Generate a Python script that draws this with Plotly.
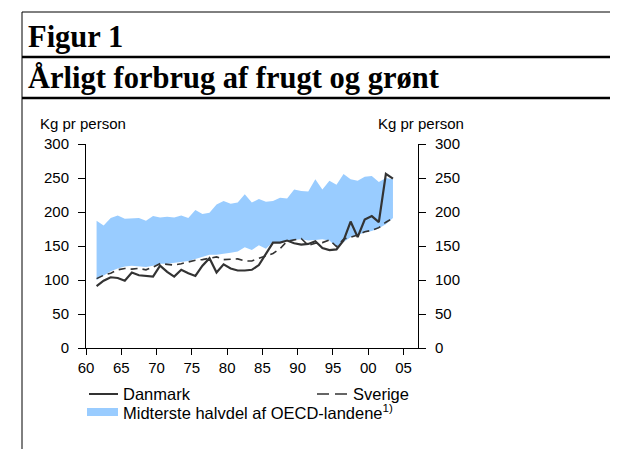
import plotly.graph_objects as go

# ---------------- data ----------------
years = list(range(1961, 2004))

danmark = [91, 99, 104, 103, 99, 111, 107, 106, 105, 121,
           112, 105, 115, 110, 106, 121, 132, 111, 123, 117,
           114, 114, 115, 122, 138, 155, 155, 158, 154, 152,
           153, 157, 147, 144, 145, 158, 186, 163, 189, 194,
           185, 256, 249]

sverige = [102, 107, 110, 115, 117, 116, 117, 115, 119, 124,
           123, 122, 124, 127, 129, 130, 132, 134, 130, 130,
           131, 128, 128, 132, 136, 139, 146, 157, 159, 161,
           151, 154, 155, 159, 149, 160, 163, 166, 171, 173,
           177, 185, 191]

oecd_low = [100, 107, 113, 117, 120, 121, 120, 119, 121, 124,
            124, 125, 126, 128, 131, 134, 137, 137, 138, 140,
            142, 148, 144, 151, 146, 156, 156, 158, 159, 160,
            158, 159, 160, 158, 148, 156, 163, 166, 170, 172,
            176, 182, 191]

oecd_high = [187, 180, 191, 195, 190, 190, 191, 187, 194, 192,
             193, 192, 195, 191, 203, 197, 199, 211, 216, 212,
             214, 226, 214, 219, 215, 216, 221, 220, 233, 231,
             230, 248, 233, 246, 240, 256, 248, 246, 252, 253,
             244, 250, 248]

tick_years = [1960, 1965, 1970, 1975, 1980, 1985, 1990, 1995, 2000, 2005]
tick_labels = ["60", "65", "70", "75", "80", "85", "90", "95", "00", "05"]
y_ticks = [0, 50, 100, 150, 200, 250, 300]

# ---------------- styling ----------------
OFF = 8                      # page body margin in the browser
W, H = 618 - OFF, 449 - OFF
L, R, T, B = 86 - OFF, 418 - OFF, 144 - OFF, 348 - OFF
SANS = "Liberation Sans, Arial, sans-serif"
SERIF = "Liberation Serif, Times New Roman, serif"
BLUE = "#99CCFF"
LINE = "#333333"


def px(x):
    return (x - OFF - L) / (R - L)


def py(y):
    return (B - (y - OFF)) / (B - T)


fig = go.Figure()

fig.add_trace(go.Scatter(x=years, y=oecd_low, mode="lines",
                         line=dict(width=0, color=BLUE), hoverinfo="skip",
                         showlegend=False))
fig.add_trace(go.Scatter(x=years, y=oecd_high, mode="lines", fill="tonexty",
                         fillcolor=BLUE, line=dict(width=0, color=BLUE),
                         name="Midterste halvdel af OECD-landene", showlegend=False))
fig.add_trace(go.Scatter(x=years, y=sverige, mode="lines", yaxis="y2",
                         line=dict(color=LINE, width=1.6, dash="7px,5px"),
                         name="Sverige", showlegend=False))
fig.add_trace(go.Scatter(x=years, y=danmark, mode="lines",
                         line=dict(color=LINE, width=2.2),
                         name="Danmark", showlegend=False))

tickfont = dict(family=SANS, size=15, color="black")

fig.update_layout(
    width=W, height=H,
    margin=dict(l=L, r=W - R, t=T, b=H - B, pad=0),
    paper_bgcolor="white", plot_bgcolor="white",
    showlegend=False,
    xaxis=dict(range=[1959.5, 2006.55],
               tickvals=[t - 0.5 for t in tick_years], ticktext=tick_labels,
               ticks="outside", ticklen=6, tickwidth=1, tickcolor="black",
               showline=True, linecolor="black", linewidth=1,
               showgrid=False, zeroline=False, tickfont=tickfont),
    yaxis=dict(range=[0, 300], tickvals=y_ticks,
               ticks="outside", ticklen=7, tickwidth=1, tickcolor="black",
               ticklabelstandoff=6,
               showline=True, linecolor="black", linewidth=1,
               showgrid=False, zeroline=False, tickfont=tickfont),
    yaxis2=dict(range=[0, 300], tickvals=y_ticks, overlaying="y", side="right",
                ticks="outside", ticklen=7, tickwidth=1, tickcolor="black",
                ticklabelstandoff=6,
                showline=True, linecolor="black", linewidth=1,
                showgrid=False, zeroline=False, tickfont=tickfont),
)

shapes = []
# frame lines
shapes.append(dict(type="line", xref="paper", yref="paper",
                   x0=px(22), x1=px(618), y0=py(12), y1=py(12),
                   line=dict(color="black", width=1)))
shapes.append(dict(type="line", xref="paper", yref="paper",
                   x0=px(22), x1=px(22), y0=py(12), y1=py(449),
                   line=dict(color="black", width=1)))
shapes.append(dict(type="line", xref="paper", yref="paper",
                   x0=px(22), x1=px(618), y0=py(57), y1=py(57),
                   line=dict(color="black", width=2.5)))
shapes.append(dict(type="line", xref="paper", yref="paper",
                   x0=px(22), x1=px(618), y0=py(98), y1=py(98),
                   line=dict(color="black", width=2.5)))
# legend samples
shapes.append(dict(type="line", xref="paper", yref="paper",
                   x0=px(89), x1=px(118), y0=py(394), y1=py(394),
                   line=dict(color=LINE, width=2)))
shapes.append(dict(type="line", xref="paper", yref="paper",
                   x0=px(317), x1=px(347), y0=py(394), y1=py(394),
                   line=dict(color=LINE, width=1.6, dash="12px,6px")))
shapes.append(dict(type="rect", xref="paper", yref="paper",
                   x0=px(87), x1=px(118), y0=py(416), y1=py(408),
                   line=dict(width=0), fillcolor=BLUE))
fig.update_layout(shapes=shapes)

ann = []


def text(x, y, s, size, family, anchor="left", bold=False):
    if bold:
        s = "<b>" + s + "</b>"
    ann.append(dict(x=px(x), y=py(y), xref="paper", yref="paper", text=s,
                    showarrow=False, xanchor=anchor, yanchor="middle",
                    font=dict(family=family, size=size, color="black")))


text(26, 37, "Figur 1", 30.5, SERIF, bold=True)
text(26, 78, "Årligt forbrug af frugt og grønt", 30.5, SERIF, bold=True)
text(38, 124, "Kg pr person", 15, SANS)
text(466, 124, "Kg pr person", 15, SANS, anchor="right")
text(121, 394, "Danmark", 16.5, SANS)
text(351, 394, "Sverige", 16.5, SANS)
text(121, 412, "Midterste halvdel af OECD-landene<sup>1)</sup>", 16.5, SANS)
fig.update_layout(annotations=ann)

fig.write_html("out.html")
